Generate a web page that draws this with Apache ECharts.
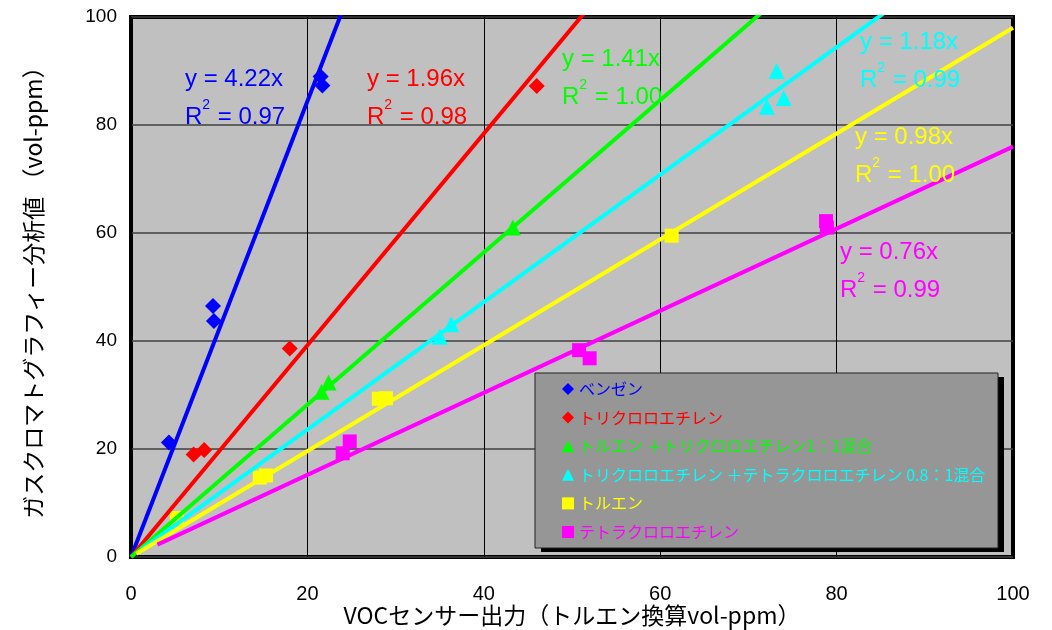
<!DOCTYPE html>
<html>
<head>
<meta charset="utf-8">
<script src="https://cdn.jsdelivr.net/npm/echarts@6/dist/echarts.min.js"></script>
<style>
html,body{margin:0;padding:0;background:#fff;}
#chart{width:1052px;height:630px;}
</style>
</head>
<body>
<div id="chart"></div>
<script>
// ---- data ----
const seriesNames = ['ベンゼン', 'トリクロロエチレン', 'トルエン ＋トリクロロエチレン1：1混合', 'トリクロロエチレン ＋テトラクロロエチレン 0.8：1混合', 'トルエン', 'テトラクロロエチレン'];
const seriesColors = ['#0000FF', '#FF0000', '#00FF00', '#00FFFF', '#FFFF00', '#FF00FF'];
const seriesSymbols = ['diamond', 'diamond', 'triangle', 'triangle', 'rect', 'rect'];
const benzene = [[4.3, 21.2], [9.3, 46.5], [9.4, 43.7], [21.5, 89.0], [21.7, 87.3]];
const trichloro = [[7.1, 19.0], [8.3, 19.8], [18.0, 38.6], [46.0, 87.2]];
const mix11 = [[21.6, 30.6], [22.4, 32.3], [43.3, 61.0]];
const mix081 = [[35.0, 40.8], [36.3, 43.1], [72.1, 83.4], [73.2, 90.0], [74.0, 85.0]];
const toluene = [[5.2, 7.2], [14.6, 14.7], [15.3, 15.1], [28.1, 29.3], [28.9, 29.4], [61.3, 59.5]];
const tetrachloro = [[24.0, 19.2], [24.8, 21.4], [50.8, 38.3], [52.0, 36.8], [78.8, 62.2], [78.9, 61.0]];
const slopes = [4.22, 1.96, 1.41, 1.18, 0.98, 0.76];
const r2 = ['0.97', '0.98', '1.00', '0.99', '1.00', '0.99'];
const lineStartX = [0, 0, 0, 1.2, 0.6, 3.0];
const xTicks = [0, 20, 40, 60, 80, 100];
const yTicks = [0, 20, 40, 60, 80, 100];
const pointSets = [benzene, trichloro, mix11, mix081, toluene, tetrachloro];

// ---- layout ----
const gridL = 131, gridT = 17, gridR = 39, gridB = 73;
const eqPos = [[185, 67], [367, 67], [562, 47], [860, 30], [855, 125], [840, 240]];
const symbolSizes = [16, 16, 16, 16, 14, 14];

const chart = echarts.init(document.getElementById('chart'), null, {renderer: 'canvas'});

const series = [];
pointSets.forEach((pts, i) => {
  series.push({
    name: seriesNames[i],
    type: 'scatter',
    data: pts,
    symbol: seriesSymbols[i],
    symbolSize: symbolSizes[i],
    itemStyle: {color: seriesColors[i], opacity: 1},
    z: 3
  });
});
slopes.forEach((s, i) => {
  series.push({
    name: 'trend' + i,
    type: 'line',
    data: [[lineStartX[i], lineStartX[i] * s], [100, 100 * s]],
    symbol: 'none',
    lineStyle: {color: seriesColors[i], width: 4},
    clip: true,
    silent: true,
    z: 4
  });
});

const graphics = [];
slopes.forEach((s, i) => {
  graphics.push({
    type: 'text',
    left: eqPos[i][0],
    top: eqPos[i][1],
    z: 20,
    style: {
      text: '{a|y = ' + s.toFixed(2) + 'x}\n{a|R}{s|2}{a| = ' + r2[i] + '}',
      rich: {
        a: {fontSize: 24, fontFamily: 'Liberation Sans, Arial, sans-serif', fill: seriesColors[i], lineHeight: 38},
        s: {fontSize: 14, fontFamily: 'Liberation Sans, Arial, sans-serif', fill: seriesColors[i], verticalAlign: 'top', lineHeight: 36, padding: [0, 1, 0, 0]}
      }
    }
  });
});
// legend box with shadow
graphics.push({type: 'rect', shape: {x: 541, y: 377, width: 463, height: 175}, style: {fill: '#000'}, z: 8});
graphics.push({type: 'rect', shape: {x: 535, y: 373, width: 463, height: 175}, style: {fill: '#969696', stroke: '#222', lineWidth: 1}, z: 9});

const option = {
  backgroundColor: '#ffffff',
  animation: false,
  grid: {left: gridL, top: gridT, right: gridR, bottom: gridB, show: true, backgroundColor: '#C0C0C0', borderColor: '#000', borderWidth: 4, containLabel: false, outerBoundsMode: 'none'},
  xAxis: {
    type: 'value', min: 0, max: 100, interval: 20,
    name: 'VOCセンサー出力（トルエン換算vol-ppm）',
    nameLocation: 'middle', nameGap: 46, nameMoveOverlap: false,
    nameTextStyle: {fontSize: 23, color: '#000', fontFamily: 'Noto Sans CJK JP, sans-serif', lineHeight: 24},
    axisLine: {show: false}, axisTick: {show: false},
    axisLabel: {fontSize: 20, color: '#000', margin: 27, fontFamily: 'Liberation Sans Narrow, Liberation Sans, sans-serif',
      formatter: v => xTicks.includes(v) ? String(v) : ''},
    splitLine: {show: true, lineStyle: {color: '#000', width: 1}}
  },
  yAxis: {
    type: 'value', min: 0, max: 100, interval: 20,
    name: 'ガスクロマトグラフィー分析値 （vol-ppm）',
    nameLocation: 'middle', nameGap: 86, nameMoveOverlap: false,
    nameTextStyle: {fontSize: 23, color: '#000', fontFamily: 'Noto Sans CJK JP, sans-serif'},
    axisLine: {show: false}, axisTick: {show: false},
    axisLabel: {fontSize: 19, color: '#000', margin: 14, fontFamily: 'Liberation Sans, Arial, sans-serif',
      formatter: v => yTicks.includes(v) ? String(v) : ''},
    splitLine: {show: true, lineStyle: {color: '#404040', width: 1.5}}
  },
  legend: {
    orient: 'vertical',
    left: 535, top: 373,
    padding: [8, 0, 0, 27],
    itemGap: 12.6,
    itemWidth: 12, itemHeight: 12,
    itemStyle: {borderWidth: 0},
    z: 12,
    textStyle: {fontSize: 16, fontFamily: 'Noto Sans CJK JP, sans-serif'},
    data: seriesNames.map((n, i) => ({name: n, icon: seriesSymbols[i], textStyle: {color: seriesColors[i]}}))
  },
  graphic: graphics,
  series: series
};
chart.setOption(option);
</script>
</body>
</html>
